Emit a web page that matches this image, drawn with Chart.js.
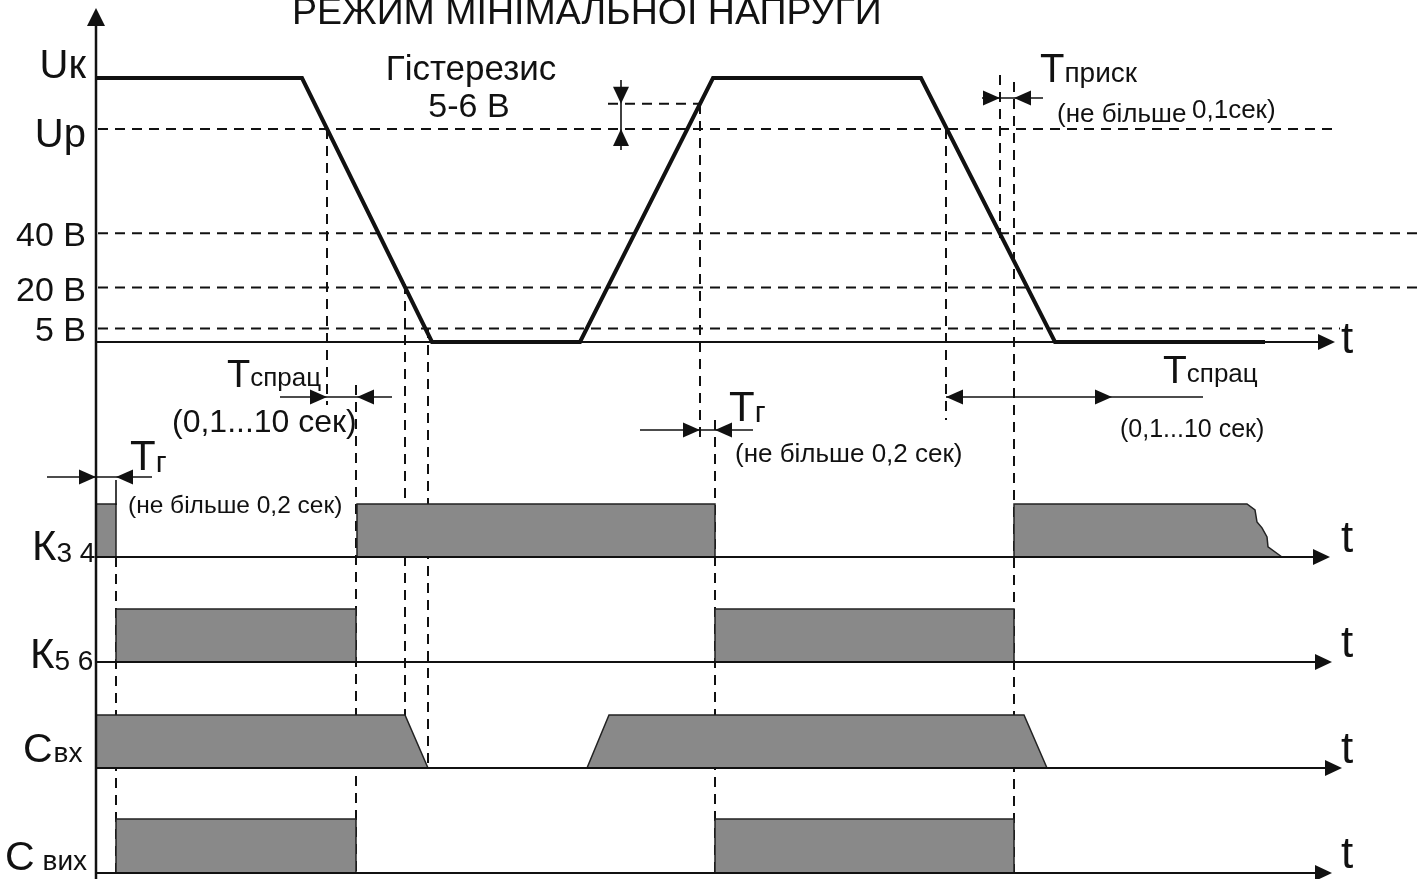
<!DOCTYPE html>
<html lang="uk">

<head>
    <meta charset="UTF-8">
    <title>Режим мінімальної напруги</title>
    <script src="https://cdn.jsdelivr.net/npm/chart.js@4.4.1/dist/chart.umd.min.js"></script>
    <style>
        * {
            margin: 0;
            padding: 0;
        }

        body {
            background: #fff;
            width: 1418px;
            height: 879px;
            overflow: hidden;
        }
    </style>
</head>

<body>
    <canvas id="diagram" width="1418" height="879"></canvas>

    <script>
        // time in conventional units, 0 = vertical axis
        const uTimes = [0, 20.6, 33.6, 48.4, 61.7, 82.5, 95.9, 116.9]
        const uVolts = [97, 97, 0, 0, 97, 97, 0, 0]

        // threshold levels (schematic volts)
        const levelNames = ['5 В', '20 В', '40 В', 'Up', 'Uк']
        const levelVolts = [5, 20, 40, 78.3, 97]
        const levelEnds = [124.4, 132.2, 132.2, 123.8, null]
        const hystVolts = 87.5
        const hystSpan = [51.2, 60.4]

        // contact / signal states, 1 = on
        const k34Times = [0, 2.0, 2.0, 26.1, 26.1, 61.9, 61.9, 91.8, 91.8, 115.1, 115.9, 116.1, 116.6, 117.1, 117.2, 118.6]
        const k34States = [1, 1, 0, 0, 1, 1, 0, 0, 1, 1, 0.89, 0.66, 0.55, 0.38, 0.19, 0]
        const k56Times = [2.0, 2.0, 26.0, 26.0, 61.9, 61.9, 91.8, 91.8]
        const k56States = [0, 1, 1, 0, 0, 1, 1, 0]
        const cInTimes = [0, 30.9, 33.2, 49.1, 51.3, 92.8, 95.1]
        const cInStates = [1, 1, 0, 0, 1, 1, 0]
        const cOutTimes = [2.0, 2.0, 26.0, 26.0, 61.9, 61.9, 91.8, 91.8]
        const cOutStates = [0, 1, 1, 0, 0, 1, 1, 0]

        // moments marked with dashed verticals
        const guideTimes = [2.0, 23.1, 26.0, 30.9, 33.2, 60.4, 61.9, 85.0, 90.4, 91.8]

        // ---- layout ----
        const W = 1418, H = 879
        const X0 = 96, PX_PER_T = 10
        const U_BASE = 342, U_TOP = 78
        const ink = '#111'
        const grey = '#898989'
        const FONT = '"Liberation Sans", Arial, sans-serif'

        const bands = [
            { id: 'yK34', base: 557, high: 504, tip: 123.4, times: k34Times, states: k34States },
            { id: 'yK56', base: 662, high: 609, tip: 123.6, times: k56Times, states: k56States },
            { id: 'yCin', base: 768, high: 715, tip: 124.6, times: cInTimes, states: cInStates },
            { id: 'yCout', base: 873, high: 819, tip: 123.6, times: cOutTimes, states: cOutStates },
        ]
        const guideSpans = [[557, 873], [129, 405], [385, 873], [284, 716], [328, 768],
        [104, 442], [420, 873], [129, 420], [75, 240], [82, 873]]

        function pts(xs, ys) {
            return xs.map((x, i) => ({ x: x, y: ys[i] }))
        }

        const kU = (U_BASE - U_TOP) / uVolts[0]
        const scales = {
            x: { type: 'linear', display: false, bounds: 'data', min: -X0 / PX_PER_T, max: (W - X0) / PX_PER_T },
            yU: { type: 'linear', display: false, bounds: 'data', max: U_BASE / kU, min: U_BASE / kU - H / kU },
        }
        bands.forEach(b => {
            const kb = b.base - b.high
            scales[b.id] = { type: 'linear', display: false, bounds: 'data', max: b.base / kb, min: b.base / kb - H / kb }
        })

        const datasets = []
        levelVolts.forEach((v, i) => {
            if (levelEnds[i] === null) return
            datasets.push({
                data: [{ x: 0.2, y: v }, { x: levelEnds[i], y: v }],
                yAxisID: 'yU', borderColor: ink, borderWidth: 2, borderDash: [10, 7], fill: false
            })
        })
        datasets.push({
            data: [{ x: hystSpan[0], y: hystVolts }, { x: hystSpan[1], y: hystVolts }],
            yAxisID: 'yU', borderColor: ink, borderWidth: 2, borderDash: [10, 7], fill: false
        })
        datasets.push({
            data: pts(uTimes, uVolts), yAxisID: 'yU',
            borderColor: '#111', borderWidth: 4, borderJoinStyle: 'miter', fill: false
        })
        bands.forEach(b => {
            datasets.push({
                data: pts(b.times, b.states), yAxisID: b.id,
                borderColor: '#222', borderWidth: 1.5, backgroundColor: grey, fill: 'origin'
            })
        })

        function tri(ctx, x, y, dir, len, half) {
            ctx.beginPath()
            if (dir === 'right') { ctx.moveTo(x, y); ctx.lineTo(x - len, y - half); ctx.lineTo(x - len, y + half) }
            if (dir === 'left') { ctx.moveTo(x, y); ctx.lineTo(x + len, y - half); ctx.lineTo(x + len, y + half) }
            if (dir === 'up') { ctx.moveTo(x, y); ctx.lineTo(x - half, y + len); ctx.lineTo(x + half, y + len) }
            if (dir === 'down') { ctx.moveTo(x, y); ctx.lineTo(x - half, y - len); ctx.lineTo(x + half, y - len) }
            ctx.closePath()
            ctx.fill()
        }

        function line(ctx, x1, y1, x2, y2) {
            ctx.beginPath()
            ctx.moveTo(x1, y1)
            ctx.lineTo(x2, y2)
            ctx.stroke()
        }

        function text(ctx, s, x, y, size, align) {
            ctx.font = size + 'px ' + FONT
            ctx.textAlign = align || 'left'
            ctx.textBaseline = 'alphabetic'
            ctx.fillText(s, x, y)
            return ctx.measureText(s).width
        }

        // big letter + smaller index on the same line
        function label(ctx, main, sub, x, y, size, subSize, subDy, gap) {
            const w = text(ctx, main, x, y, size)
            text(ctx, sub, x + w + (gap || 0), y + (subDy || 0), subSize)
        }

        // dimension arrows, in time units: [y px, from, to, [tip time, dir]...]
        const dims = [
            [397, 18.4, 29.6, [[23.1, 'right'], [26.1, 'left']]],
            [477, -4.9, 5.6, [[0, 'right'], [2.0, 'left']]],
            [430, 54.4, 65.7, [[60.4, 'right'], [61.9, 'left']]],
            [397, 85.0, 110.7, [[85.0, 'left'], [101.6, 'right']]],
            [98, 88.6, 94.7, [[90.4, 'right'], [91.8, 'left']]],
        ]

        const decor = {
            id: 'decor',
            beforeDatasetsDraw(chart) {
                const ctx = chart.ctx, xs = chart.scales.x
                ctx.save()
                ctx.strokeStyle = ink
                ctx.lineWidth = 2
                ctx.setLineDash([10, 7])
                guideTimes.forEach((t, i) => {
                    const px = Math.round(xs.getPixelForValue(t))
                    line(ctx, px, guideSpans[i][0], px, guideSpans[i][1])
                })
                ctx.restore()
            },
            afterDatasetsDraw(chart) {
                const ctx = chart.ctx, xs = chart.scales.x, yU = chart.scales.yU
                const ax = xs.getPixelForValue(0)
                ctx.save()
                ctx.strokeStyle = ink
                ctx.fillStyle = ink
                ctx.lineWidth = 2.5
                // vertical axis
                line(ctx, ax, H, ax, 22)
                tri(ctx, ax, 8, 'up', 18, 9)
                // time axes
                ctx.lineWidth = 2
                const y0 = yU.getPixelForValue(0)
                line(ctx, ax, y0, xs.getPixelForValue(123.9) - 10, y0)
                tri(ctx, xs.getPixelForValue(123.9), y0, 'right', 17, 8)
                bands.forEach(b => {
                    const yb = chart.scales[b.id].getPixelForValue(0)
                    const tx = xs.getPixelForValue(b.tip)
                    line(ctx, ax, yb, tx - 10, yb)
                    tri(ctx, tx, yb, 'right', 17, 8)
                })

                // dimension arrows
                ctx.lineWidth = 1.6
                dims.forEach(d => {
                    line(ctx, xs.getPixelForValue(d[1]), d[0], xs.getPixelForValue(d[2]), d[0])
                    d[3].forEach(tp => tri(ctx, xs.getPixelForValue(tp[0]), d[0], tp[1], 17, 7.5))
                })
                const e116 = xs.getPixelForValue(2.0)
                line(ctx, e116, 480, e116, 505)

                // hysteresis marker
                const hx = xs.getPixelForValue(52.5)
                line(ctx, hx, 80, hx, 150)
                tri(ctx, hx, yU.getPixelForValue(hystVolts), 'down', 17, 8)
                tri(ctx, hx, yU.getPixelForValue(levelVolts[3]), 'up', 17, 8)

                // texts
                ctx.fillStyle = '#111'
                text(ctx, 'РЕЖИМ МІНІМАЛЬНОЇ НАПРУГИ', 292, 24, 37.5)
                text(ctx, 'Гістерезис', 471, 80, 35, 'center')
                text(ctx, '5-6 В', 469, 117, 34, 'center')

                text(ctx, levelNames[4], 86, 78, 40, 'right')
                text(ctx, levelNames[3], 86, 147, 40, 'right')
                for (let i = 0; i < 3; i++) {
                    text(ctx, levelNames[i], 86, yU.getPixelForValue(levelVolts[i]) + 13, 34, 'right')
                }

                label(ctx, 'T', 'приск', 1040, 82, 40, 28)
                text(ctx, '(не більше', 1057, 122, 26)
                text(ctx, '0,1сек)', 1192, 118, 26)

                label(ctx, 'T', 'спрац', 227, 387, 38, 26, -1)
                text(ctx, '(0,1...10 сек)', 172, 432, 32)
                label(ctx, 'T', 'г', 130, 470, 42, 30, 2)
                text(ctx, '(не більше 0,2 сек)', 128, 513, 24.5)

                label(ctx, 'T', 'г', 729, 421, 42, 30, 1)
                text(ctx, '(не більше 0,2 сек)', 735, 462, 26)

                label(ctx, 'T', 'спрац', 1163, 383, 39, 26, -1)
                text(ctx, '(0,1...10 сек)', 1120, 437, 25)

                label(ctx, 'К', '3 4', 32, 560, 42, 28, 2)
                label(ctx, 'К', '5 6', 30, 668, 42, 28, 2)
                label(ctx, 'С', 'вх', 23, 762, 41, 28, 0, 1)
                label(ctx, 'С', 'вих', 5, 870, 41, 28, 0, 8)

                const tX = 1341
                text(ctx, 't', tX, y0 + 11, 44)
                bands.forEach(b => text(ctx, 't', tX, b.base - 5, 44))
                ctx.restore()
            }
        }

        new Chart(document.getElementById('diagram'), {
            type: 'line',
            data: { datasets: datasets },
            options: {
                responsive: false,
                animation: false,
                devicePixelRatio: 1,
                events: [],
                layout: { padding: 0 },
                elements: { point: { radius: 0 }, line: { tension: 0 } },
                plugins: { legend: { display: false }, tooltip: { enabled: false } },
                scales: scales
            },
            plugins: [decor]
        })
    </script>
</body>

</html>
